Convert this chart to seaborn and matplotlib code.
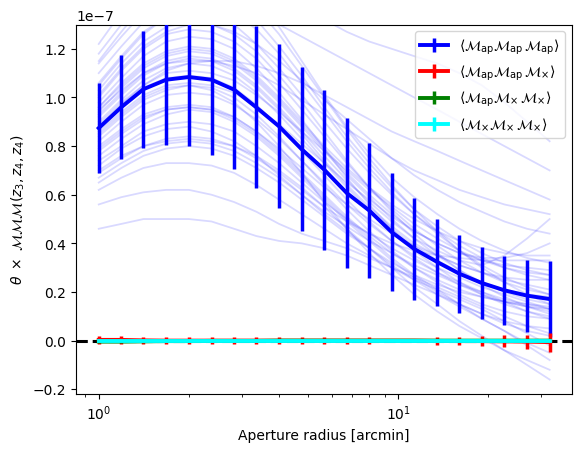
import numpy as np
import pandas as pd
import matplotlib
matplotlib.use("Agg")
import matplotlib.pyplot as plt
import seaborn as sns

# aperture radii [arcmin]
theta = [1.0, 1.19, 1.41, 1.68, 2.0, 2.38, 2.83, 3.36, 4.0, 4.76, 5.66,
         6.73, 8.0, 9.51, 11.3, 13.5, 16.0, 19.0, 22.6, 26.9, 32.0]

# mean  theta x <MapMapMap>  (units of 1e-7) and its scatter
mmm_ap = [0.874, 0.96, 1.034, 1.073, 1.084, 1.073, 1.032, 0.959, 0.881, 0.787, 0.703,
          0.607, 0.535, 0.446, 0.377, 0.323, 0.275, 0.237, 0.207, 0.185, 0.171]
err_ap = [0.185, 0.213, 0.24, 0.267, 0.285, 0.308, 0.328, 0.333, 0.337, 0.337, 0.329,
          0.309, 0.278, 0.243, 0.208, 0.179, 0.16, 0.15, 0.142, 0.148, 0.158]

mmx = [0.003, 0.003, 0.001, 0.0, 0.0, 0.0, 0.0, 0.0, 0.0, 0.0, 0.0,
       0.0, 0.0, 0.0, 0.0, -0.001, -0.002, -0.002, -0.003, -0.004, -0.006]
err_mmx = [0.016, 0.017, 0.015, 0.015, 0.015, 0.015, 0.015, 0.015, 0.015, 0.015, 0.015,
           0.015, 0.015, 0.007, 0.007, 0.015, 0.015, 0.021, 0.025, 0.029, 0.039]

mxx = [-0.004, -0.004, -0.003, -0.002, -0.002, -0.001, -0.001, -0.001, 0.0, 0.0, 0.0,
       0.0, 0.0, 0.0, 0.0, 0.0, 0.0, 0.0, 0.0, 0.0, 0.0]
err_mxx = [0.002] * 21

xxx = [0.0] * 21
err_xxx = [0.001] * 21

# individual realisations (units of 1e-7)
realisations = [
    [0.46, 0.48, 0.50, 0.50, 0.50, 0.49, 0.46, 0.43, 0.41, 0.40, 0.38, 0.35, 0.31, 0.27, 0.23, 0.19, 0.15, 0.11, 0.07, 0.04, 0.02],
    [0.56, 0.59, 0.61, 0.62, 0.62, 0.60, 0.57, 0.53, 0.48, 0.44, 0.41, 0.38, 0.34, 0.30, 0.26, 0.22, 0.18, 0.14, 0.10, 0.06, 0.03],
    [0.62, 0.67, 0.71, 0.73, 0.73, 0.72, 0.69, 0.64, 0.58, 0.52, 0.46, 0.40, 0.35, 0.30, 0.25, 0.21, 0.17, 0.13, 0.08, 0.03, -0.02],
    [0.65, 0.71, 0.76, 0.79, 0.80, 0.79, 0.76, 0.71, 0.65, 0.58, 0.51, 0.44, 0.38, 0.31, 0.25, 0.19, 0.14, 0.09, 0.04, -0.02, -0.08],
    [0.67, 0.73, 0.78, 0.81, 0.82, 0.81, 0.78, 0.73, 0.67, 0.60, 0.53, 0.47, 0.41, 0.36, 0.31, 0.27, 0.23, 0.20, 0.16, 0.12, 0.09],
    [0.70, 0.76, 0.80, 0.82, 0.83, 0.82, 0.80, 0.76, 0.70, 0.63, 0.55, 0.46, 0.38, 0.30, 0.22, 0.15, 0.08, 0.02, -0.04, -0.10, -0.16],
    [0.72, 0.79, 0.84, 0.87, 0.88, 0.86, 0.82, 0.76, 0.68, 0.60, 0.52, 0.45, 0.38, 0.32, 0.27, 0.23, 0.20, 0.18, 0.16, 0.15, 0.14],
    [0.74, 0.80, 0.86, 0.89, 0.90, 0.89, 0.86, 0.80, 0.73, 0.65, 0.57, 0.50, 0.44, 0.38, 0.33, 0.28, 0.24, 0.20, 0.17, 0.15, 0.13],
    [0.76, 0.83, 0.89, 0.93, 0.95, 0.94, 0.90, 0.84, 0.76, 0.67, 0.58, 0.49, 0.41, 0.33, 0.26, 0.20, 0.15, 0.11, 0.08, 0.06, 0.05],
    [0.78, 0.85, 0.91, 0.95, 0.96, 0.95, 0.92, 0.86, 0.79, 0.71, 0.63, 0.56, 0.50, 0.44, 0.39, 0.35, 0.31, 0.28, 0.25, 0.23, 0.21],
    [0.80, 0.87, 0.93, 0.96, 0.97, 0.96, 0.92, 0.86, 0.78, 0.69, 0.60, 0.51, 0.43, 0.36, 0.30, 0.25, 0.21, 0.18, 0.16, 0.14, 0.12],
    [0.82, 0.90, 0.97, 1.01, 1.02, 1.01, 0.97, 0.91, 0.83, 0.74, 0.65, 0.56, 0.48, 0.41, 0.35, 0.30, 0.26, 0.22, 0.19, 0.16, 0.13],
    [0.84, 0.92, 0.99, 1.03, 1.05, 1.04, 1.00, 0.93, 0.84, 0.74, 0.64, 0.54, 0.45, 0.37, 0.30, 0.24, 0.19, 0.15, 0.12, 0.10, 0.09],
    [0.86, 0.94, 1.01, 1.05, 1.06, 1.05, 1.02, 0.96, 0.89, 0.81, 0.73, 0.65, 0.58, 0.51, 0.45, 0.40, 0.36, 0.33, 0.31, 0.30, 0.29],
    [0.88, 0.97, 1.04, 1.08, 1.09, 1.08, 1.04, 0.97, 0.88, 0.78, 0.68, 0.58, 0.49, 0.41, 0.34, 0.28, 0.23, 0.19, 0.16, 0.14, 0.13],
    [0.90, 0.99, 1.07, 1.12, 1.14, 1.13, 1.09, 1.02, 0.93, 0.83, 0.73, 0.63, 0.54, 0.46, 0.39, 0.33, 0.28, 0.24, 0.21, 0.19, 0.18],
    [0.92, 1.01, 1.09, 1.14, 1.16, 1.15, 1.11, 1.04, 0.95, 0.85, 0.74, 0.64, 0.55, 0.47, 0.40, 0.35, 0.31, 0.28, 0.26, 0.25, 0.25],
    [0.94, 1.04, 1.12, 1.17, 1.19, 1.18, 1.14, 1.07, 0.98, 0.88, 0.78, 0.68, 0.59, 0.50, 0.42, 0.35, 0.29, 0.24, 0.20, 0.17, 0.15],
    [0.96, 1.06, 1.14, 1.19, 1.21, 1.20, 1.16, 1.09, 1.00, 0.90, 0.80, 0.71, 0.63, 0.56, 0.50, 0.45, 0.41, 0.38, 0.36, 0.35, 0.35],
    [0.98, 1.08, 1.17, 1.23, 1.25, 1.24, 1.20, 1.12, 1.02, 0.91, 0.79, 0.67, 0.56, 0.46, 0.37, 0.30, 0.24, 0.19, 0.15, 0.12, 0.10],
    [1.00, 1.11, 1.20, 1.26, 1.28, 1.27, 1.23, 1.16, 1.06, 0.95, 0.84, 0.73, 0.63, 0.54, 0.46, 0.39, 0.33, 0.28, 0.24, 0.21, 0.19],
    [1.03, 1.14, 1.23, 1.29, 1.31, 1.30, 1.26, 1.19, 1.09, 0.98, 0.86, 0.74, 0.63, 0.53, 0.44, 0.36, 0.29, 0.23, 0.18, 0.14, 0.11],
    [1.06, 1.17, 1.27, 1.33, 1.35, 1.34, 1.30, 1.22, 1.12, 1.01, 0.90, 0.79, 0.69, 0.60, 0.52, 0.45, 0.39, 0.34, 0.30, 0.27, 0.25],
    [1.10, 1.21, 1.31, 1.37, 1.40, 1.39, 1.35, 1.28, 1.18, 1.06, 0.94, 0.82, 0.71, 0.61, 0.52, 0.44, 0.37, 0.31, 0.26, 0.22, 0.19],
    [1.14, 1.25, 1.35, 1.42, 1.45, 1.44, 1.40, 1.32, 1.21, 1.09, 0.96, 0.84, 0.73, 0.63, 0.54, 0.47, 0.41, 0.36, 0.32, 0.29, 0.27],
    [1.18, 1.30, 1.40, 1.47, 1.50, 1.49, 1.45, 1.37, 1.26, 1.13, 1.00, 0.87, 0.75, 0.64, 0.54, 0.45, 0.37, 0.30, 0.24, 0.19, 0.15],
    [1.22, 1.35, 1.46, 1.53, 1.56, 1.55, 1.50, 1.41, 1.29, 1.15, 1.01, 0.88, 0.77, 0.67, 0.59, 0.52, 0.46, 0.41, 0.37, 0.34, 0.32],
    [0.95, 1.03, 1.10, 1.14, 1.15, 1.15, 1.13, 1.10, 1.05, 0.99, 0.93, 0.87, 0.81, 0.75, 0.70, 0.66, 0.62, 0.59, 0.56, 0.54, 0.52],
    [1.05, 1.16, 1.26, 1.33, 1.37, 1.38, 1.37, 1.34, 1.30, 1.25, 1.20, 1.15, 1.10, 1.05, 1.00, 0.95, 0.90, 0.85, 0.80, 0.75, 0.70],
    [1.15, 1.27, 1.38, 1.46, 1.51, 1.53, 1.52, 1.49, 1.44, 1.38, 1.32, 1.27, 1.23, 1.20, 1.17, 1.14, 1.10, 1.05, 0.98, 0.90, 0.82],
    [0.85, 0.93, 1.00, 1.04, 1.05, 1.03, 0.98, 0.90, 0.80, 0.69, 0.57, 0.46, 0.36, 0.27, 0.19, 0.12, 0.06, 0.01, -0.04, -0.08, -0.12],
    [0.79, 0.86, 0.92, 0.95, 0.96, 0.95, 0.91, 0.85, 0.77, 0.68, 0.59, 0.50, 0.42, 0.34, 0.27, 0.21, 0.15, 0.09, 0.04, -0.01, -0.05],
    [0.89, 0.98, 1.05, 1.10, 1.11, 1.10, 1.07, 1.01, 0.94, 0.86, 0.78, 0.70, 0.62, 0.55, 0.48, 0.42, 0.37, 0.33, 0.30, 0.28, 0.27],
    [0.69, 0.75, 0.80, 0.83, 0.84, 0.83, 0.80, 0.75, 0.69, 0.62, 0.55, 0.49, 0.44, 0.40, 0.37, 0.35, 0.34, 0.33, 0.33, 0.33, 0.33],
    [0.93, 1.02, 1.10, 1.15, 1.17, 1.16, 1.12, 1.05, 0.96, 0.86, 0.76, 0.66, 0.57, 0.49, 0.42, 0.37, 0.33, 0.31, 0.35, 0.42, 0.50],
    [1.01, 1.12, 1.21, 1.27, 1.30, 1.30, 1.27, 1.22, 1.15, 1.07, 0.99, 0.91, 0.83, 0.75, 0.68, 0.62, 0.57, 0.53, 0.49, 0.46, 0.44],
    [0.88, 0.97, 1.05, 1.11, 1.14, 1.15, 1.15, 1.13, 1.10, 1.06, 1.01, 0.96, 0.91, 0.86, 0.82, 0.78, 0.74, 0.70, 0.66, 0.62, 0.58],
    [0.96, 1.05, 1.13, 1.18, 1.20, 1.19, 1.15, 1.08, 0.99, 0.89, 0.79, 0.69, 0.60, 0.52, 0.45, 0.40, 0.36, 0.34, 0.34, 0.36, 0.40],
]

scale = 1e-7

# long table for seaborn
rows = []
for k, r in enumerate(realisations):
    for t, v in zip(theta, r):
        rows.append({"theta": t, "value": v * scale, "real": k})
df = pd.DataFrame(rows)

fig, ax = plt.subplots(figsize=(6.4, 4.8))

sns.lineplot(data=df, x="theta", y="value", units="real", estimator=None,
             color="blue", alpha=0.15, lw=1.3, ax=ax, legend=False)

ax.axhline(0, color="black", ls="--", lw=2.2, zorder=1)

series = [
    (mmm_ap, err_ap, "blue", r"$\langle \mathcal{M}_{\rm ap}\mathcal{M}_{\rm ap}\,\mathcal{M}_{\rm ap}\rangle$"),
    (mmx, err_mmx, "red", r"$\langle \mathcal{M}_{\rm ap}\mathcal{M}_{\rm ap}\,\mathcal{M}_{\times}\rangle$"),
    (mxx, err_mxx, "green", r"$\langle \mathcal{M}_{\rm ap}\mathcal{M}_{\times}\,\mathcal{M}_{\times}\rangle$"),
    (xxx, err_xxx, "cyan", r"$\langle \mathcal{M}_{\times}\mathcal{M}_{\times}\,\mathcal{M}_{\times}\rangle$"),
]
for vals, errs, col, lab in series:
    ax.errorbar(theta, np.array(vals) * scale, yerr=np.array(errs) * scale,
                color=col, lw=2.8, elinewidth=2.5, label=lab, zorder=3)

ax.set_xscale("log")
ax.set_ylim(-0.22e-7, 1.3e-7)
ax.set_xlabel("Aperture radius [arcmin]")
ax.set_ylabel(r"$\theta\ \times\ \mathcal{MMM}(z_3,z_4,z_4)$")
ax.legend(loc="upper right")

fig.savefig("out.png", dpi=100, bbox_inches="tight")
